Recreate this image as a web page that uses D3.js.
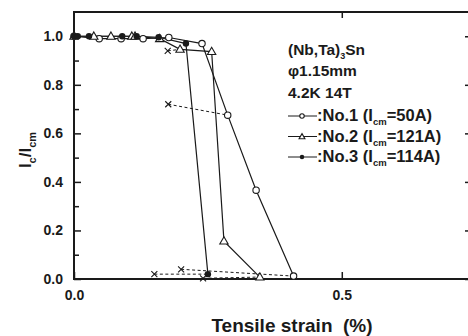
<!DOCTYPE html>
<html>
<head>
<meta charset="utf-8">
<script src="https://cdn.jsdelivr.net/npm/d3@7"></script>
<style>
  body { margin: 0; background: #fff; }
  svg { display: block; font-family: "Liberation Sans", Arial, sans-serif; font-weight: bold; }
</style>
</head>
<body>
<svg id="chart" width="468" height="336"></svg>
<script>
// strain (%) vs normalised critical current
const no1X = [0, 0.047, 0.088, 0.129, 0.177, 0.239, 0.287, 0.340, 0.410];
const no1Y = [1.0, 0.99, 0.99, 0.99, 0.995, 0.97, 0.675, 0.366, 0.012];
const no2X = [0, 0.037, 0.069, 0.108, 0.114, 0.16, 0.198, 0.257, 0.280, 0.347];
const no2Y = [1.0, 1.0, 1.0, 1.0, 1.0, 0.99, 0.946, 0.937, 0.156, 0.008];
const no3X = [0, 0.007, 0.028, 0.090, 0.117, 0.158, 0.209, 0.250];
const no3Y = [1.0, 1.0, 1.0, 1.0, 1.0, 0.996, 0.97, 0.02];
// unloaded points (x) and dashed links to the curve
const crossX = [0.175, 0.176, 0.150, 0.200, 0.241];
const crossY = [0.94, 0.72, 0.02, 0.04, 0.003];
const linkX = [0.198, 0.287, 0.250, 0.410, 0.347];
const linkY = [0.946, 0.675, 0.02, 0.012, 0.008];

const yMajor = [0, 0.2, 0.4, 0.6, 0.8, 1.0];
const yMinor = [0.1, 0.3, 0.5, 0.7, 0.9];
const xMajor = [0.0, 0.5];
const legendNames = ['No.1', 'No.2', 'No.3'];
const legendIcm = ['50A', '121A', '114A'];
const noteLines = ['φ1.15mm', '4.2K 14T'];

const ink = '#1a1a1a';
const svg = d3.select('#chart');
const x = d3.scaleLinear().domain([0, 0.745]).range([74, 473]);
const y = d3.scaleLinear().domain([0, 1.1]).range([279, 12]);

// axes, ticks pointing inward
svg.append('g').attr('transform', `translate(${x(0)},0)`)
  .call(d3.axisLeft(y).tickValues(yMajor).tickSizeInner(-7).tickSizeOuter(0)
    .tickPadding(11).tickFormat(d3.format('.1f')));
svg.append('g').attr('transform', `translate(${x(0)},0)`)
  .call(d3.axisLeft(y).tickValues(yMinor).tickSizeInner(-5).tickSizeOuter(0).tickFormat(''));
const bottom = svg.append('g').attr('transform', `translate(0,${y(0)})`)
  .call(d3.axisBottom(x).tickValues(xMajor).tickSizeInner(-7).tickSizeOuter(0)
    .tickPadding(11).tickFormat(d3.format('.1f')));
svg.append('g').attr('transform', `translate(0,${y(1.1)})`)
  .call(d3.axisTop(x).tickValues([0.5]).tickSizeInner(-6).tickSizeOuter(0).tickFormat(''));
svg.append('g').attr('transform', `translate(${x(0.745)},0)`)
  .call(d3.axisRight(y).tickValues(yMajor).tickSizeInner(-8).tickSizeOuter(0).tickFormat(''));

svg.selectAll('.domain').remove();
svg.selectAll('.tick line').attr('stroke', ink).attr('stroke-width', 1.5);
svg.selectAll('.tick text').attr('fill', ink).attr('font-size', 14).attr('font-family', null);
bottom.selectAll('.tick text').attr('text-anchor', 'middle');

// frame
svg.append('rect')
  .attr('x', x(0)).attr('y', y(1.1))
  .attr('width', x(0.745) - x(0)).attr('height', y(0) - y(1.1))
  .attr('fill', 'none').attr('stroke', ink).attr('stroke-width', 2);

const line = d3.line().x(d => x(d[0])).y(d => y(d[1]));
const plot = svg.append('g');

// dashed links
plot.selectAll('.link').data(crossX.map((v, i) => [[v, crossY[i]], [linkX[i], linkY[i]]]))
  .join('path')
  .attr('d', line).attr('fill', 'none').attr('stroke', ink)
  .attr('stroke-width', 1).attr('stroke-dasharray', '3,2.5');

const series = [
  { xs: no1X, ys: no1Y, mark: 'circle' },
  { xs: no2X, ys: no2Y, mark: 'triangle' },
  { xs: no3X, ys: no3Y, mark: 'dot' }
];

function drawMark(g, kind, cx, cy, k = 1) {
  if (kind === 'circle') {
    g.append('circle').attr('cx', cx).attr('cy', cy).attr('r', 3.2 * k)
      .attr('fill', '#fff').attr('stroke', ink).attr('stroke-width', 1.1);
  } else if (kind === 'triangle') {
    g.append('path').attr('d', d3.symbol(d3.symbolTriangle, 30 * k * k)())
      .attr('transform', `translate(${cx},${cy + 0.5})`)
      .attr('fill', '#fff').attr('stroke', ink).attr('stroke-width', 1.1);
  } else {
    g.append('circle').attr('cx', cx).attr('cy', cy).attr('r', 3.2 * k).attr('fill', ink);
  }
}

series.forEach(s => {
  const pts = s.xs.map((v, i) => [v, s.ys[i]]);
  plot.append('path').attr('d', line(pts)).attr('fill', 'none')
    .attr('stroke', ink).attr('stroke-width', 1.2);
});
series.forEach(s => {
  s.xs.forEach((v, i) => drawMark(plot, s.mark, x(v), y(s.ys[i])));
});

// crosses
crossX.forEach((v, i) => {
  plot.append('path')
    .attr('d', 'M-3,-3L3,3M-3,3L3,-3')
    .attr('transform', `translate(${x(v)},${y(crossY[i])})`)
    .attr('fill', 'none').attr('stroke', ink).attr('stroke-width', 1.1);
});

// annotation
const note = svg.append('g').attr('fill', ink).attr('font-size', 15.5);
const t0 = note.append('text').attr('x', 288).attr('y', 55);
t0.append('tspan').text('(Nb,Ta)');
t0.append('tspan').attr('font-size', 9).attr('dy', 4).text('3');
t0.append('tspan').attr('dy', -4).text('Sn');
noteLines.forEach((s, i) => {
  note.append('text').attr('x', 288).attr('y', 76 + i * 21.5).text(s);
});

const kinds = ['circle', 'triangle', 'dot'];
legendNames.forEach((n, i) => {
  const by = 121 + i * 20.5;
  const my = by - 5;
  note.append('line').attr('x1', 288).attr('x2', 317).attr('y1', my).attr('y2', my)
    .attr('stroke', ink).attr('stroke-width', 1);
  const g = note.append('g');
  drawMark(g, kinds[i], 302, my, 0.7);
  const t = note.append('text').attr('x', 317).attr('y', by).attr('font-size', 16.5);
  t.append('tspan').text(`:${n} (I`);
  t.append('tspan').attr('font-size', 9.5).attr('dy', 4).text('cm');
  t.append('tspan').attr('dy', -4).text(`=${legendIcm[i]})`);
});

// axis titles
svg.append('text').attr('x', 292).attr('y', 332).attr('text-anchor', 'middle')
  .attr('fill', ink).attr('font-size', 19).text('Tensile strain\u00a0\u00a0(%)');

const yt = svg.append('text').attr('transform', 'translate(31,150) rotate(-90)')
  .attr('text-anchor', 'middle').attr('fill', ink).attr('font-size', 17);
yt.append('tspan').text('I');
yt.append('tspan').attr('font-size', 11).attr('dy', 5).text('c');
yt.append('tspan').attr('dy', -5).text('/I');
yt.append('tspan').attr('font-size', 11).attr('dy', 5).text('cm');
</script>
</body>
</html>
